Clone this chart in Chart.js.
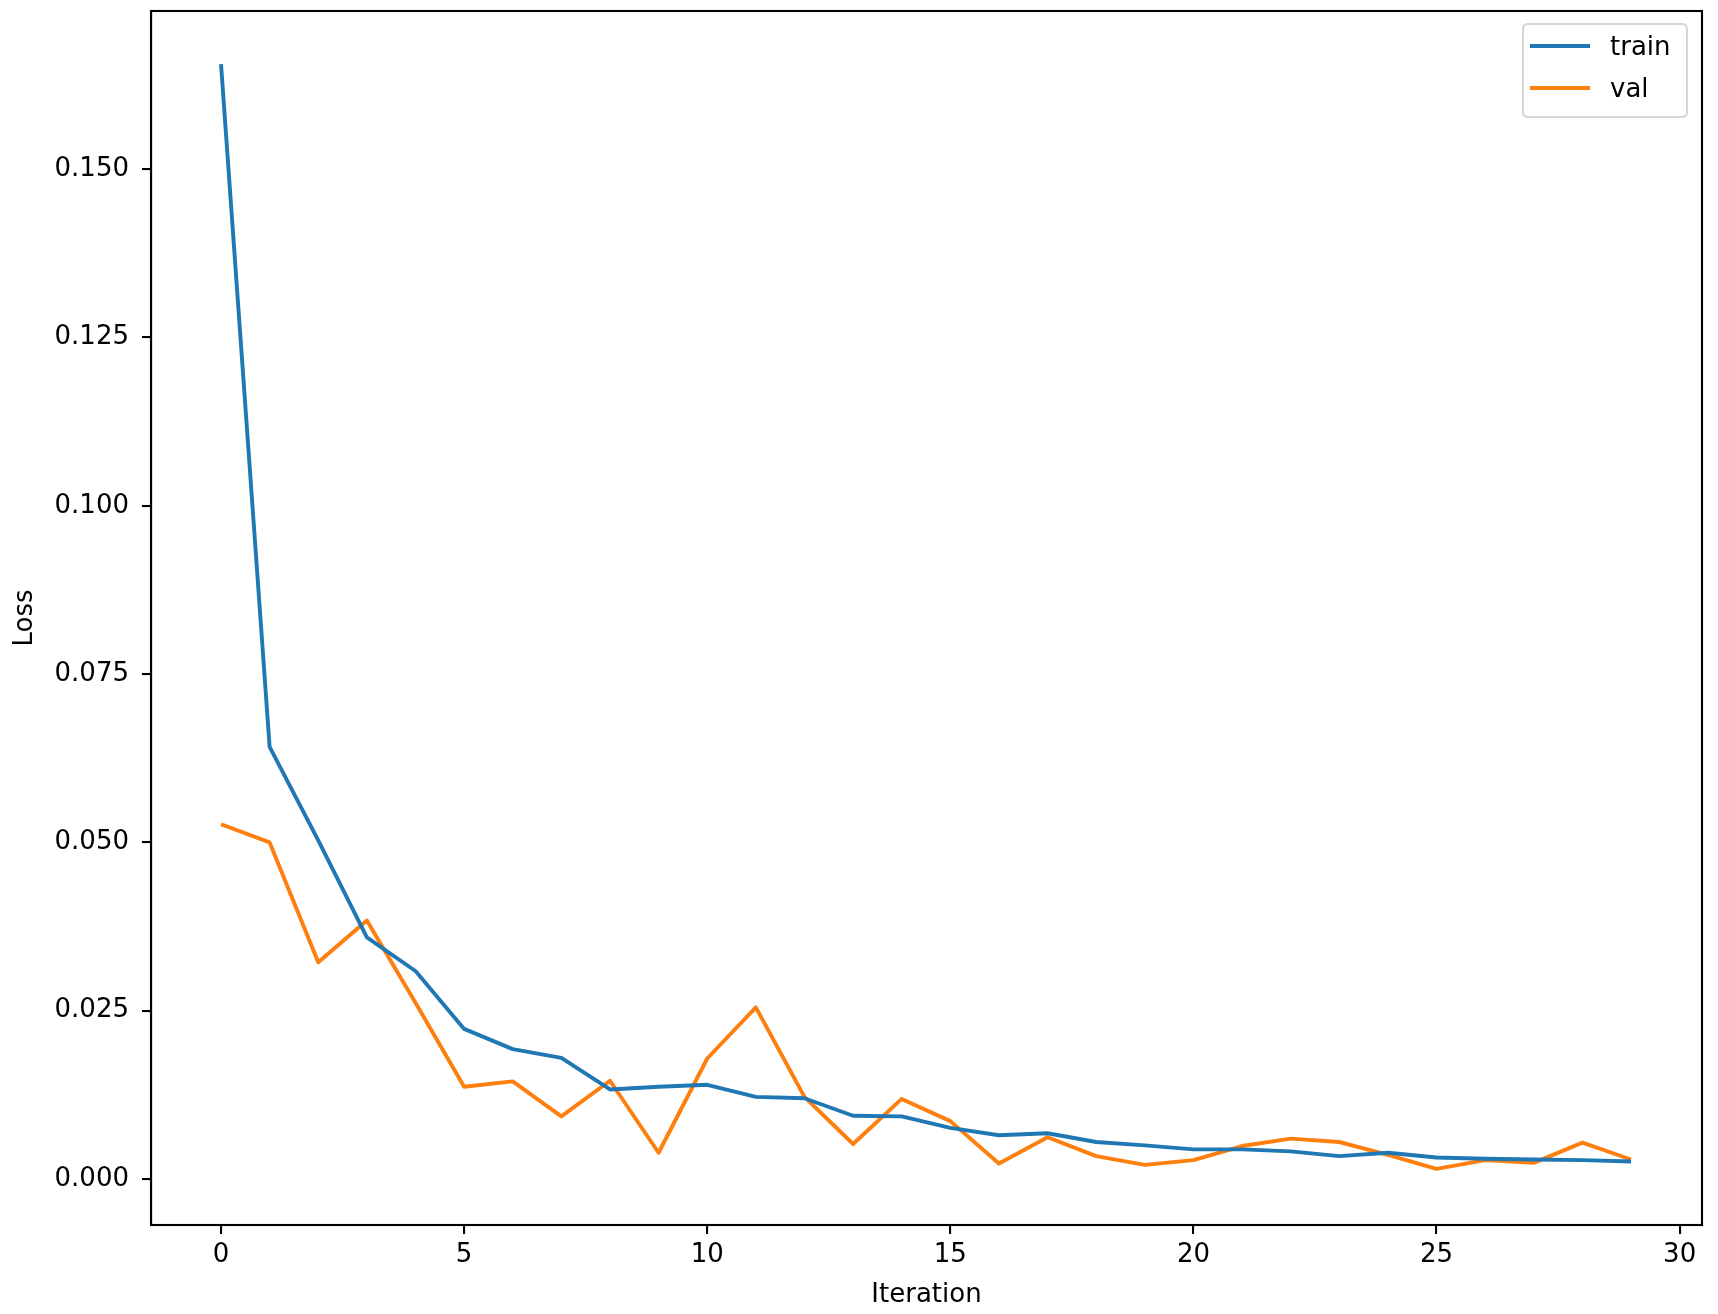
<!DOCTYPE html>
<html>
<head>
<meta charset="utf-8">
<script src="https://cdn.jsdelivr.net/npm/chart.js@4.4.1/dist/chart.umd.min.js"></script>
<style>
  html, body { margin: 0; padding: 0; background: #ffffff; }
  #wrap { width: 1718px; height: 1314px; }
</style>
</head>
<body>
<div id="wrap"><canvas id="c" width="1718" height="1314"></canvas></div>
<script>
const iterations = [0,1,2,3,4,5,6,7,8,9,10,11,12,13,14,15,16,17,18,19,20,21,22,23,24,25,26,27,28,29];
const trainLoss = [0.1656,0.0642,0.0503,0.0359,0.0309,0.0223,0.0193,0.0180,0.0133,0.0137,0.0140,0.0122,0.0120,0.0094,0.0093,0.0076,0.0065,0.0068,0.0055,0.0050,0.0044,0.0044,0.0041,0.0034,0.0039,0.0032,0.0030,0.0029,0.0028,0.0026];
const valLoss = [0.0527,0.0500,0.0322,0.0384,0.0262,0.0137,0.0145,0.0093,0.0146,0.0039,0.0179,0.0255,0.0122,0.0052,0.0119,0.0086,0.0023,0.0062,0.0034,0.0021,0.0028,0.0049,0.0060,0.0055,0.0036,0.0015,0.0028,0.0024,0.0054,0.0029];
const seriesLabels = ['train', 'val'];
const xTicks = [0,5,10,15,20,25,30];
const yTicks = [0.000,0.025,0.050,0.075,0.100,0.125,0.150];
const xTitle = 'Iteration';
const yTitle = 'Loss';

const FONT = '"DejaVu Sans", sans-serif';
const FS = 26;
const BLUE = '#1f77b4';
const ORANGE = '#ff7f0e';

const framePlugin = {
  id: 'frame',
  afterDraw(chart) {
    const {ctx, chartArea: a} = chart;
    ctx.save();
    ctx.strokeStyle = '#000';
    ctx.lineWidth = 2.1;
    ctx.strokeRect(a.left, a.top, a.right - a.left, a.bottom - a.top);
    ctx.restore();
  }
};

const legendPlugin = {
  id: 'mplLegend',
  afterDraw(chart) {
    const {ctx, chartArea: a} = chart;
    const w = 164, h = 93;
    const x = a.right - 15 - w, y = a.top + 13;
    ctx.save();
    const r = 5;
    ctx.beginPath();
    ctx.moveTo(x + r, y);
    ctx.lineTo(x + w - r, y);
    ctx.quadraticCurveTo(x + w, y, x + w, y + r);
    ctx.lineTo(x + w, y + h - r);
    ctx.quadraticCurveTo(x + w, y + h, x + w - r, y + h);
    ctx.lineTo(x + r, y + h);
    ctx.quadraticCurveTo(x, y + h, x, y + h - r);
    ctx.lineTo(x, y + r);
    ctx.quadraticCurveTo(x, y, x + r, y);
    ctx.closePath();
    ctx.fillStyle = 'rgba(255,255,255,0.8)';
    ctx.fill();
    ctx.strokeStyle = '#d6d6d6';
    ctx.lineWidth = 2;
    ctx.stroke();
    chart.data.datasets.forEach((ds, i) => {
      const ry = y + 22 + i * 42;
      ctx.beginPath();
      ctx.moveTo(x + 7, ry);
      ctx.lineTo(x + 67, ry);
      ctx.strokeStyle = ds.borderColor;
      ctx.lineWidth = 3.9;
      ctx.lineCap = 'butt';
      ctx.stroke();
      ctx.fillStyle = '#000';
      ctx.font = FS + 'px ' + FONT;
      ctx.textAlign = 'left';
      ctx.textBaseline = 'middle';
      ctx.fillText(ds.label, x + 87, ry + 2);
    });
    ctx.restore();
  }
};

new Chart(document.getElementById('c'), {
  type: 'line',
  data: {
    datasets: [
      {
        label: seriesLabels[0],
        data: trainLoss.map((v, i) => ({x: iterations[i], y: v})),
        borderColor: BLUE,
        backgroundColor: BLUE,
        borderWidth: 3.9,
        pointRadius: 0,
        tension: 0,
        borderJoinStyle: 'round',
        fill: false
      },
      {
        label: seriesLabels[1],
        data: valLoss.map((v, i) => ({x: iterations[i], y: v})),
        borderColor: ORANGE,
        backgroundColor: ORANGE,
        borderWidth: 3.9,
        pointRadius: 0,
        tension: 0,
        borderJoinStyle: 'round',
        fill: false
      }
    ]
  },
  options: {
    responsive: false,
    animation: false,
    devicePixelRatio: 1,
    layout: { padding: { top: 11, right: 16, bottom: 0, left: 0 } },
    plugins: {
      legend: { display: false },
      tooltip: { enabled: false },
      title: { display: false }
    },
    scales: {
      x: {
        type: 'linear',
        min: -1.44,
        max: 30.46,
        afterFit(scale) { scale.height = 89; scale.paddingLeft = 0; scale.paddingRight = 0; },
        afterBuildTicks(scale) { scale.ticks = xTicks.map(v => ({value: v})); },
        grid: { drawOnChartArea: false, drawTicks: true, tickLength: 9, color: '#000', lineWidth: 2.1 },
        border: { display: true, color: '#000', width: 2.1 },
        ticks: {
          color: '#000',
          font: { family: FONT, size: FS },
          padding: 6,
          maxRotation: 0,
          autoSkip: false,
          callback: v => String(v)
        },
        title: {
          display: true,
          text: xTitle,
          color: '#000',
          font: { family: FONT, size: FS },
          padding: { top: 0, bottom: 3 }
        }
      },
      y: {
        type: 'linear',
        min: -0.00683,
        max: 0.1735,
        afterFit(scale) { scale.width = 151; scale.paddingTop = 0; scale.paddingBottom = 0; },
        afterBuildTicks(scale) { scale.ticks = yTicks.map(v => ({value: v})); },
        grid: { drawOnChartArea: false, drawTicks: true, tickLength: 9, color: '#000', lineWidth: 2.1 },
        border: { display: true, color: '#000', width: 2.1 },
        ticks: {
          color: '#000',
          font: { family: FONT, size: FS },
          padding: 13,
          autoSkip: false,
          callback: v => v.toFixed(3)
        },
        title: {
          display: true,
          text: yTitle,
          color: '#000',
          font: { family: FONT, size: FS },
          padding: { top: 10, bottom: 0 }
        }
      }
    }
  },
  plugins: [framePlugin, legendPlugin]
});
</script>
</body>
</html>
